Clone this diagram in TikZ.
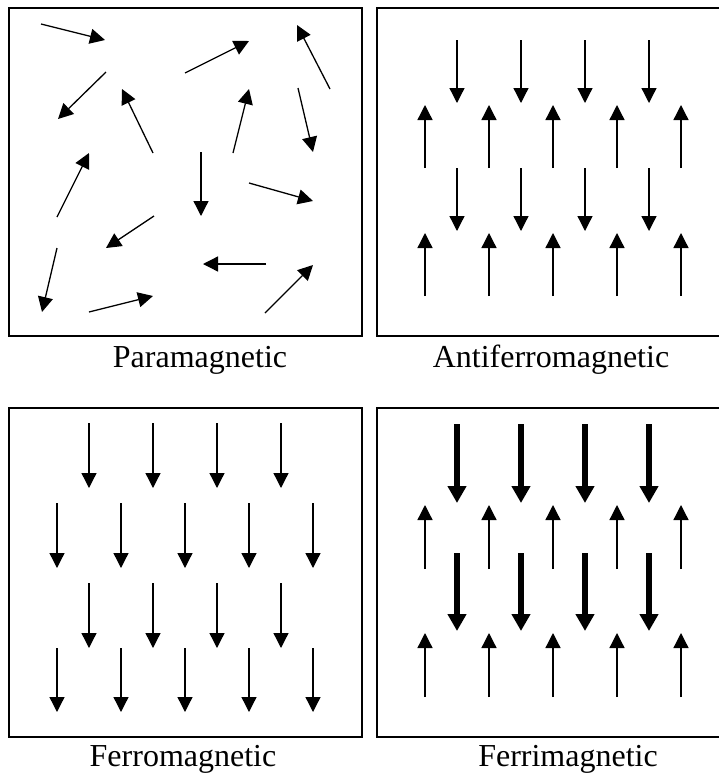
\documentclass[tikz,border=0pt]{standalone}
\usepackage{fontspec}
\setmainfont{Liberation Serif}
\usetikzlibrary{arrows.meta}
\tikzset{
  spin/.style={line width=1.3pt, -{Triangle[length=15pt,width=15pt]}},
  bigspin/.style={line width=5.5pt, -{Triangle[length=17pt,width=18pt]}},
  panel/.style={line width=1.6pt},
  lbl/.style={anchor=base, font=\fontsize{32}{38}\selectfont, inner sep=0pt}
}
\begin{document}
\begin{tikzpicture}[x=1pt,y=-1pt]
\useasboundingbox (0,0) rectangle (719,774);
\clip (0,0) rectangle (719,774);
% panels
\draw[panel] (9,8) rectangle (362,336);
\draw[panel] (377,8) rectangle (730,336);
\draw[panel] (9,408) rectangle (362,737);
\draw[panel] (377,408) rectangle (730,737);
% labels
\node[lbl] (para) at (200,367) {Paramagnetic};
\node[lbl] (anti) at (551,367) {Antiferromagnetic};
\node[lbl] (ferro) at (183,766) {Ferromagnetic};
\node[lbl] (ferri) at (568,766) {Ferrimagnetic};
% paramagnetic
\foreach \a/\b/\c/\d in {
  41/24/105/40, 106/72/58/119, 185/73/249/41, 330/89/297/25,
  153/153/122/89, 233/153/249/89, 298/88/313/152, 57/217/89/153,
  201/152/201/216, 249/183/313/201, 154/216/106/248, 266/264/203/264,
  57/248/42/312, 89/312/153/296, 265/313/313/265}
  \draw[spin] (\a,\b) -- (\c,\d);
% antiferromagnetic
\foreach \x in {457,521,585,649} {
  \draw[spin] (\x,40) -- (\x,103);
  \draw[spin] (\x,168) -- (\x,231);
}
\foreach \x in {425,489,553,617,681} {
  \draw[spin] (\x,168) -- (\x,105);
  \draw[spin] (\x,296) -- (\x,233);
}
% ferromagnetic
\foreach \x in {89,153,217,281} {
  \draw[spin] (\x,423) -- (\x,488);
  \draw[spin] (\x,583) -- (\x,648);
}
\foreach \x in {57,121,185,249,313} {
  \draw[spin] (\x,503) -- (\x,568);
  \draw[spin] (\x,648) -- (\x,712);
}
% ferrimagnetic
\foreach \x in {457,521,585,649} {
  \draw[bigspin] (\x,424) -- (\x,503);
  \draw[bigspin] (\x,553) -- (\x,631);
}
\foreach \x in {425,489,553,617,681} {
  \draw[spin] (\x,569) -- (\x,505);
  \draw[spin] (\x,697) -- (\x,633);
}
\end{tikzpicture}
\end{document}
